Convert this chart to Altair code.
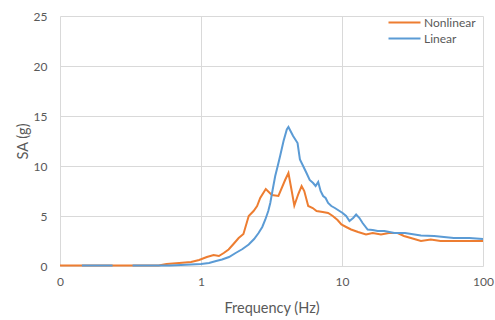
import altair as alt
import pandas as pd

# Nonlinear series (frequency in Hz, SA in g)
nl_freq = [0.1, 0.143, 0.2, 0.236, 0.3, 0.4, 0.5, 0.57, 0.7, 0.85, 0.97, 1.1, 1.23, 1.34,
           1.45, 1.57, 1.7, 1.85, 2.0, 2.18, 2.36, 2.5, 2.63, 2.88, 3.18, 3.54, 3.95,
           4.17, 4.4, 4.59, 4.9, 5.17, 5.4, 5.76, 6.2, 6.6, 7.3, 7.97, 8.6, 9.3, 9.9,
           10.7, 11.6, 13.0, 14.8, 16.5, 18.9, 21.5, 24.8, 27.5, 30.8, 36.3, 42.6, 50,
           60, 75, 100]
nl_sa = [0.05, 0.05, 0.05, 0.05, 0.05, 0.05, 0.05, 0.2, 0.3, 0.4, 0.6, 0.9, 1.1, 1.0,
         1.3, 1.65, 2.2, 2.8, 3.2, 5.0, 5.5, 6.0, 6.8, 7.7, 7.1, 7.0, 8.6,
         9.3, 7.5, 6.05, 7.2, 8.0, 7.5, 6.0, 5.8, 5.5, 5.4, 5.3, 5.0, 4.6, 4.15,
         3.9, 3.65, 3.4, 3.15, 3.3, 3.15, 3.3, 3.3, 3.0, 2.8, 2.5, 2.65, 2.5,
         2.5, 2.5, 2.5]

# Linear series
li_freq = [0.143, 0.236, 0.327, 0.45, 0.6, 0.72, 0.85, 1.0, 1.14, 1.28, 1.41, 1.58,
           1.76, 1.97, 2.18, 2.38, 2.56, 2.72, 2.86, 3.0, 3.1, 3.22, 3.36, 3.5, 3.64,
           3.85, 4.06, 4.17, 4.5, 4.84, 5.03, 5.3, 5.6, 5.9, 6.24, 6.5, 6.78, 7.05,
           7.35, 7.65, 7.97, 8.4, 8.9, 9.6, 10.1, 10.7, 11.3, 12.0, 12.6, 13.3, 14.0,
           15.2, 16.5, 17.9, 20, 23.5, 28, 36.3, 45, 62, 80, 100]
li_sa = [0.05, 0.05, 0.05, 0.05, 0.05, 0.1, 0.15, 0.2, 0.3, 0.5, 0.65, 0.9,
         1.3, 1.7, 2.15, 2.7, 3.3, 3.9, 4.65, 5.5, 6.3, 7.6, 9.0, 10.0, 11.0,
         12.5, 13.65, 13.9, 13.0, 12.3, 10.65, 10.0, 9.3, 8.6, 8.3, 8.0, 8.4, 7.5,
         7.0, 6.8, 6.3, 6.0, 5.8, 5.5, 5.3, 5.0, 4.5, 4.8, 5.15, 4.8, 4.3,
         3.65, 3.6, 3.5, 3.5, 3.3, 3.3, 3.05, 3.0, 2.8, 2.8, 2.7]
li_seg = [1, 1] + [2] * (len(li_freq) - 2)

series_names = ["Nonlinear", "Linear"]
series_colors = ["#ED7D31", "#5B9BD5"]
x_ticks = [0.1, 1, 10, 100]
y_ticks = [0, 5, 10, 15, 20, 25]

nl_df = pd.DataFrame({"freq": nl_freq, "sa": nl_sa, "series": "Nonlinear", "seg": 1})
li_df = pd.DataFrame({"freq": li_freq, "sa": li_sa, "series": "Linear", "seg": li_seg})

FONT = "Lato"
TXT = "#595959"

x_enc = alt.X("freq:Q", scale=alt.Scale(type="log", domain=[0.1, 100], nice=False),
              axis=alt.Axis(values=x_ticks, title="Frequency (Hz)",
                            labelExpr="datum.value < 1 ? '0' : format(datum.value, 'd')",
                            labelFlush=False, labelOverlap=False,
                            labelPadding=10, titlePadding=14))
y_enc = alt.Y("sa:Q", scale=alt.Scale(domain=[0, 25], nice=False),
              axis=alt.Axis(values=y_ticks, title="SA (g)", labelPadding=13,
                            titlePadding=3))
color_enc = alt.Color("series:N",
                      scale=alt.Scale(domain=series_names, range=series_colors),
                      legend=alt.Legend(orient="none", legendX=335, legendY=-3, title=None,
                                        symbolType="M-2,0H2", symbolSize=256,
                                        symbolStrokeWidth=2.2, labelOffset=10,
                                        rowPadding=0, padding=0, labelFont=FONT,
                                        labelFontSize=12, labelColor=TXT))

nl_line = alt.Chart(nl_df).mark_line(strokeWidth=2.0).encode(
    x=x_enc, y=y_enc, color=color_enc, detail="seg:N")
li_line = alt.Chart(li_df).mark_line(strokeWidth=2.0).encode(
    x=x_enc, y=y_enc, color=color_enc, detail="seg:N")

chart = alt.layer(nl_line, li_line).properties(
    width=423, height=250,
    background="white",
    autosize=alt.AutoSizeParams(type="none"),
    padding={"left": 60, "top": 16, "right": 12, "bottom": 54},
).configure_view(stroke=None).configure_axis(
    grid=True, gridColor="#d9d9d9", gridWidth=1, domain=False, ticks=False,
    labelFont=FONT, labelFontSize=12, labelColor=TXT,
    titleFont=FONT, titleFontSize=14.5, titleColor=TXT, titleFontWeight="normal",
)

chart.save("out.html", embed_options={"renderer": "svg", "actions": False})
